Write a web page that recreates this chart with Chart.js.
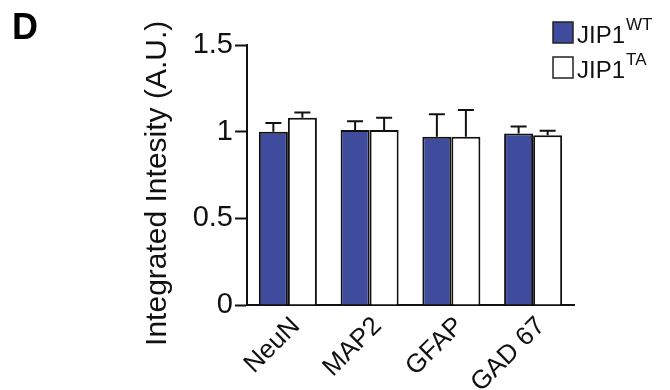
<!DOCTYPE html>
<html>
<head>
<meta charset="utf-8">
<script src="https://cdn.jsdelivr.net/npm/chart.js@4.4.0/dist/chart.umd.min.js"></script>
<style>
  html, body { margin: 0; padding: 0; background: #fff; }
  #wrap { width: 670px; height: 390px; position: relative; }
</style>
</head>
<body>
<div id="wrap"><canvas id="myChart" width="670" height="390"></canvas></div>
<script>
var categories = ["NeuN", "MAP2", "GFAP", "GAD 67"];
var seriesBase = ["JIP1", "JIP1"];
var seriesSup = ["WT", "TA"];
var wtValues = [1.00, 1.01, 0.97, 0.99];
var wtErrors = [0.05, 0.05, 0.13, 0.04];
var taValues = [1.08, 1.01, 0.97, 0.98];
var taErrors = [0.03, 0.07, 0.155, 0.025];
var yTicks = [0, 0.5, 1, 1.5];

var blue = "#3f4c9e";
var fontFam = "'Liberation Sans', Arial, Helvetica, sans-serif";

// upper error bars with caps
var errorBars = {
    id: "errorBars",
    afterDatasetsDraw(chart) {
        var ctx = chart.ctx;
        var y = chart.scales.y;
        ctx.save();
        ctx.strokeStyle = "#111";
        ctx.lineWidth = 2;
        chart.data.datasets.forEach((ds, i) => {
            var meta = chart.getDatasetMeta(i);
            meta.data.forEach((bar, j) => {
                var top = y.getPixelForValue(ds.data[j] + ds.errors[j]);
                var x = bar.x;
                ctx.beginPath();
                ctx.moveTo(x, bar.y);
                ctx.lineTo(x, top);
                ctx.moveTo(x - 8, top);
                ctx.lineTo(x + 8, top);
                ctx.stroke();
            });
        });
        ctx.restore();
    }
};

// panel letter + legend with superscripts
var extras = {
    id: "extras",
    afterDraw(chart) {
        var ctx = chart.ctx;
        ctx.save();
        ctx.fillStyle = "#000";
        ctx.textBaseline = "alphabetic";
        ctx.font = "bold 36px " + fontFam;
        ctx.fillText("D", 12, 39);

        chart.data.datasets.forEach((ds, i) => {
            var top = 22 + i * 35;
            ctx.fillStyle = ds.backgroundColor;
            ctx.fillRect(553, top, 20, 21);
            ctx.lineWidth = 1.5;
            ctx.strokeStyle = "#222";
            ctx.strokeRect(553, top, 20, 21);
            ctx.fillStyle = "#111";
            ctx.font = "24px " + fontFam;
            ctx.fillText(seriesBase[i], 577, top + 21);
            var w = ctx.measureText(seriesBase[i]).width;
            ctx.font = "17px " + fontFam;
            ctx.fillText(seriesSup[i], 577 + w + 1, top + 8);
        });
        ctx.restore();
    }
};

new Chart(document.querySelector("#myChart"), {
    type: "bar",
    data: {
        labels: categories,
        datasets: [{
            label: seriesBase[0] + seriesSup[0],
            data: wtValues,
            errors: wtErrors,
            backgroundColor: blue,
            borderColor: "#111",
            borderWidth: 2,
            categoryPercentage: 0.71,
            barPercentage: 1.0
        }, {
            label: seriesBase[1] + seriesSup[1],
            data: taValues,
            errors: taErrors,
            backgroundColor: "#ffffff",
            borderColor: "#111",
            borderWidth: 2,
            categoryPercentage: 0.71,
            barPercentage: 1.0
        }]
    },
    options: {
        responsive: false,
        animation: false,
        layout: { padding: { top: 45, right: 96, bottom: 0, left: 140 } },
        plugins: {
            legend: { display: false },
            tooltip: { enabled: false }
        },
        scales: {
            x: {
                grid: { display: false, drawTicks: false },
                border: { display: true, color: "#111", width: 2 },
                ticks: {
                    color: "#111",
                    font: { family: fontFam, size: 26 },
                    minRotation: 45,
                    maxRotation: 45,
                    autoSkip: false,
                    padding: 6,
                    labelOffset: 8
                },
                afterFit(scale) { scale.height = 85; }
            },
            y: {
                min: 0,
                max: 1.5,
                afterBuildTicks(scale) { scale.ticks = yTicks.map(v => ({ value: v })); },
                grid: {
                    drawOnChartArea: false,
                    drawTicks: true,
                    tickLength: 12,
                    tickWidth: 2,
                    tickColor: "#111"
                },
                border: { display: true, color: "#111", width: 2 },
                ticks: {
                    color: "#111",
                    font: { family: fontFam, size: 29 },
                    padding: 2,
                    callback: v => String(v)
                },
                title: {
                    display: true,
                    // trailing spaces nudge the centred title down a little
                    text: "Integrated Intesity (A.U.)  ",
                    color: "#111",
                    font: { family: fontFam, size: 30 },
                    padding: 0
                },
                afterFit(scale) { scale.width = 107; }
            }
        }
    },
    plugins: [errorBars, extras]
});
</script>
</body>
</html>
